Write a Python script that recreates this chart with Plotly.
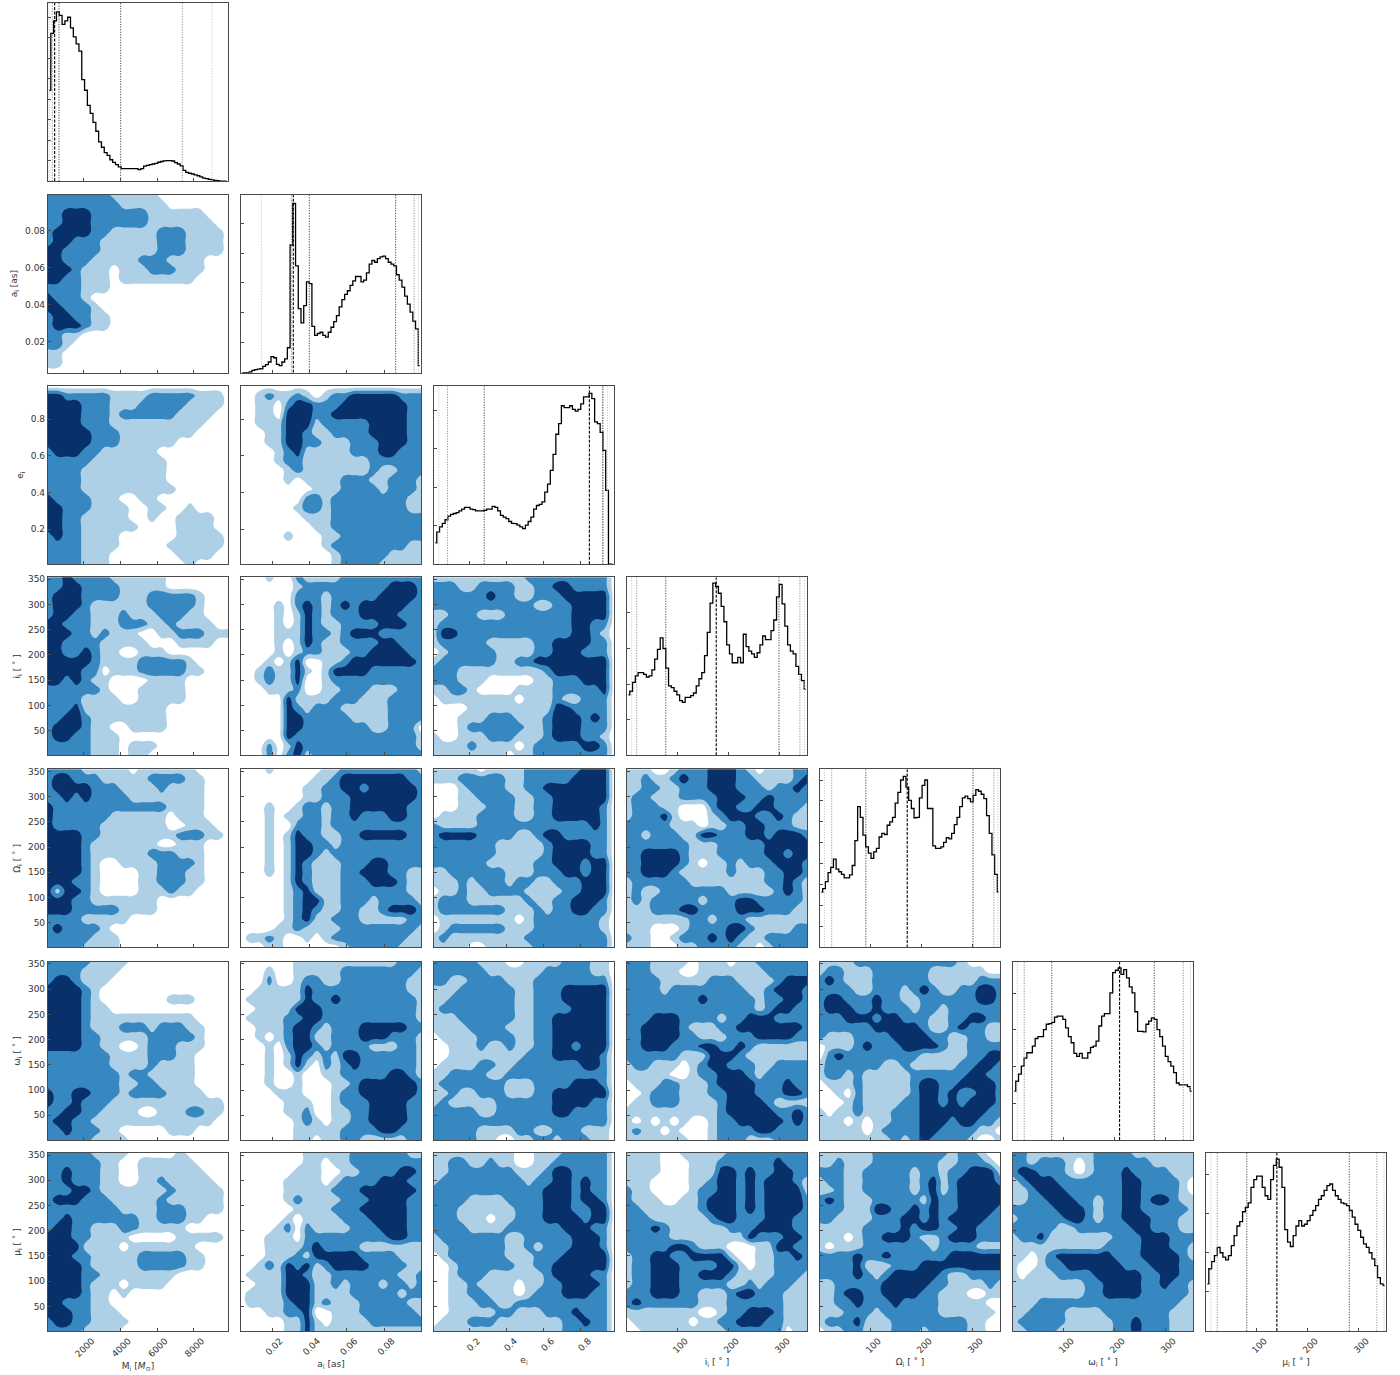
import numpy as np
import plotly.graph_objects as go

# --- parameter names / axes ---
LABELS = ["M<sub>i</sub> [<i>M</i><sub>\u2299</sub>]", "a<sub>i</sub> [as]", "e<sub>i</sub>", "i<sub>i</sub> [ \u02da ]",
          "\u03a9<sub>i</sub> [ \u02da ]", "\u03c9<sub>i</sub> [ \u02da ]", "\u03bc<sub>i</sub> [ \u02da ]"]
RANGES = [[40, 9880], [0.0033, 0.0997], [0.008, 0.98], [1, 354], [1, 354], [1, 354], [1, 354]]
XTICKS = [[2000, 4000, 6000, 8000], [0.02, 0.04, 0.06, 0.08], [0.2, 0.4, 0.6, 0.8],
          [100, 200, 300], [100, 200, 300], [100, 200, 300], [100, 200, 300]]
XTICKTEXT = [["2000", "4000", "6000", "8000"], ["0.02", "0.04", "0.06", "0.08"], ["0.2", "0.4", "0.6", "0.8"],
             ["100", "200", "300"], ["100", "200", "300"], ["100", "200", "300"], ["100", "200", "300"]]
YTICKS = [[], [0.02, 0.04, 0.06, 0.08], [0.2, 0.4, 0.6, 0.8], [50, 100, 150, 200, 250, 300, 350],
          [50, 100, 150, 200, 250, 300, 350], [50, 100, 150, 200, 250, 300, 350], [50, 100, 150, 200, 250, 300, 350]]
YTICKTEXT = [[], ["0.02", "0.04", "0.06", "0.08"], ["0.2", "0.4", "0.6", "0.8"],
             ["50", "100", "150", "200", "250", "300", "350"], ["50", "100", "150", "200", "250", "300", "350"],
             ["50", "100", "150", "200", "250", "300", "350"], ["50", "100", "150", "200", "250", "300", "350"]]
DIAG_DTICK = [11.5, 16.8, 21.6, 20, 11.75, 20.6, 22]

# --- 1D marginals (height as % of panel) ---
HIST_M = [51, 83, 90, 95, 93, 88, 90, 92, 86, 81, 77, 73, 57, 51, 42.5, 38, 33, 28, 22, 19, 16, 14.5, 12, 10.5, 9.3, 8, 7, 7, 7, 7, 7, 7, 6.5, 7, 8.4, 8.8, 9.3, 9.6, 10, 10.6, 11, 11.4, 11.5, 11.5, 11.3, 10.4, 9.6, 8.6, 6, 4.9, 4.4, 4, 3.5, 3, 2.4, 1.7, 1.4, 1, 0.7, 0.4, 0.2, 0, 0, 0]
HIST_A = [0, 0, 0, 0.4, 1.3, 1.7, 2, 2.2, 3.5, 4.5, 6, 9, 8.4, 4.7, 4, 6, 7.8, 14, 71.7, 95, 60, 36, 28, 37.6, 51, 50, 26, 21, 22, 22.7, 21, 20, 22.7, 25.5, 28.7, 32, 37, 41, 44, 46, 49, 51.6, 54, 54, 51, 52, 56, 61, 63, 62, 64, 65, 65.5, 64, 62, 61, 60, 55, 52, 48, 43, 38.5, 34, 29, 24.6, 4]
HIST_E = [12, 18, 21, 23, 25, 27, 28, 28.5, 29, 30, 31, 32, 32, 31, 30.7, 30, 30, 30, 30.3, 31, 31, 32.5, 32, 30, 27.5, 26.5, 25.6, 24, 23, 22.8, 22, 21, 20, 22, 24, 26.5, 31, 33, 33.6, 35, 40.5, 45, 52.7, 61.7, 73, 79, 89, 88, 88, 89, 87, 86, 87, 90, 94, 94, 96, 93, 80, 79, 74, 64, 41.5, 0, 0]
HIST_I = [34, 36, 41, 44.6, 46.5, 46.5, 45.5, 44, 44.6, 48, 54, 59.5, 66, 60, 49, 39, 38, 36, 34, 30.7, 29.7, 32.5, 32.5, 33.5, 35, 39, 43, 46.5, 56, 69, 85.5, 96.7, 94.8, 91, 83.6, 75, 62, 57, 52, 52, 55, 52, 68, 61, 58.5, 57, 55, 57.6, 62, 67, 65, 65, 70, 76, 89, 96, 85, 72.5, 62, 58.5, 57, 50, 45.5, 42, 37]
HIST_O = [31, 33, 37, 42, 45, 49.6, 44, 42.5, 41, 39, 39, 40.7, 46, 60, 79, 73, 63, 56.5, 53, 50, 53.7, 55.6, 62, 64, 63.4, 68.6, 70.5, 73, 81, 87, 94, 96, 90, 82.6, 78, 72.8, 73, 84, 91, 94, 78, 78, 57, 55.6, 55.6, 56.5, 59, 61.6, 61, 64, 69, 73, 79, 84, 85, 83.6, 81.7, 85.4, 88.6, 87.7, 86, 83.6, 74, 64, 52, 41, 31]
HIST_W = [27.5, 33, 37, 41.5, 46, 49, 49, 52.7, 57, 58, 58, 62, 65, 65.4, 66, 69, 69.5, 69.5, 67.7, 63, 58, 54.6, 48.6, 47, 48.6, 46, 46, 49, 52, 52.7, 55.5, 64, 69.5, 71, 71, 82.6, 94, 95.3, 96.6, 93, 95.7, 91, 86, 82.6, 72, 61, 61, 60.7, 65, 66.7, 68.6, 67.7, 62, 58, 52.7, 47, 44, 41.5, 37.8, 32, 31, 31, 31, 30, 27.5]
HIST_U = [26.5, 35, 39, 42.4, 47, 44, 41.5, 40, 42.4, 48, 53.6, 59, 61.5, 67, 69.5, 72, 80.7, 85, 87, 87, 80.7, 76, 74, 85, 93, 96.6, 92, 80.7, 57, 50, 47.5, 53.6, 59, 62, 59, 60, 62, 65, 67.7, 70.5, 74, 76, 79, 81.7, 82.6, 79, 76, 74, 72, 71.4, 70.5, 67.7, 64, 60, 56.5, 52.7, 49, 47, 44, 40.6, 36.8, 30, 26.5, 25.6]
HISTS = [HIST_M, HIST_A, HIST_E, HIST_I, HIST_O, HIST_W, HIST_U]

# quantile lines: outer-low, mid-low, inner-low, median, inner-high, mid-high, outer-high
QUANT_M = [95, 277, 641, 404, 4012, 7383, 9005]
QUANT_A = [0.0142, 0.0303, 0.0399, 0.0313, 0.0861, 0.0960, 0.0983]
QUANT_E = [0.034, 0.081, 0.279, 0.847, 0.919, 0.921, 0.944]
QUANT_I = [10, 20, 77, 176, 299, 340, 349]
QUANT_O = [10, 24, 91, 172, 301, 342, 350]
QUANT_W = [9.5, 23, 77, 210, 278, 335, 349]
QUANT_U = [10.5, 23, 81, 140, 282, 336, 350]
QUANTS = [QUANT_M, QUANT_A, QUANT_E, QUANT_I, QUANT_O, QUANT_W, QUANT_U]

# --- 2D density levels, top row first: 0 none, 1 light, 2 mid, 3 dark ---
A_M = ["22222221111100000000","22222222111110000000","22333222222111111000","22333222222111111100","23333221111122211110","23322211111122211110","33222211111122211110","33222111112221111000","33321110111222111000","33221110111111110000","22221110000000000000","32221000000000000000","33222100000000000000","23322110000000000000","23332110000000000000","22110000000000000000","22100000000000000000","11000000000000000000","11000000000000000000","00000000000000000000"]
E_M = ["00000000000000000000","33222221111222221110","33332221112222211110","33332221222222111100","33332221111111111000","33333222111111110000","33333222111111000000","23332211111100000000","22222111111110000000","22221111111110000000","22221111111110000000","22221111111111000000","32222111001100000000","33222111100110010000","33221111100100111100","33221111110000111100","23221111000000111110","22221111000001111110","22221110000000111100","22221110000000010000"]
I_M = ["22322221111110000000","22332222111110000000","23332222111222221000","23332111111222221000","23322111211122211000","33222111222112111100","33322121110011222111","33222211111000111100","33223211001110000000","33333211112222210000","33332201112222211000","33232110000111100000","22222210001111100000","22221111001111100000","22231111111110000000","22332111111110000000","23332110011110000000","23322111000000000000","22222111011100000000","22222111011000000000"]
O_M = ["22221111101111110000","23322211111222211000","23333222111121111000","22323222211111111000","32222222222221111000","32222221111110111000","32222211111110011100","33332211111111222110","33332111111100111000","33332111111222111000","33332100111122221000","33332100001122211000","33322100001122211000","31332100001112110000","33322111111100000000","33322222111100000000","22221111100000000000","23222210000000000000","22222111000000000000","22221111000000000000"]
W_M = ["22222111100000000000","22221111000000000000","23321110000000000000","33332100000000000000","33332100000001110000","33332110000000000000","33332111111111110000","33332111222122211000","33332211111222221000","33332211001222111000","22222221111222110000","22222221111211110000","22222222122111110000","22222222112211110000","32233222122221111000","32232221111111111110","22332211110011122110","23322111111111111100","22322211000001110000","22222111100000000000"]
U_M = ["22222111100000100000","22222211001111110000","22322211001111111000","22322211001121111100","22233211111112111110","23332221111121111110","22222222111122211110","22322222221122211000","23322111221111100000","33322111100000111110","33331111011111110000","33322111112222211000","33332111112222211000","33332211111111000000","33332111011110000000","33332110100000000000","33222110000000000000","33322111000000000000","23322111100000000000","22221111000000000000"]
E_A = ["00000000000000000000","00121121012233333222","00110233222333333322","00110333223333333322","00111333122222333322","00011332112222333322","00011332211122233322","00001231111122233222","00001221111111222222","00000121111111211222","00000101111222112221","00000000111222212221","00000002212222222211","00000012212222222211","00000001112222222222","00000000112222222222","00000100011222222222","00000000012222222211","00000000001222221111","00000000001222211111"]
I_A = ["00010021111222222222","00000012222222223332","00000022212222233332","00001023212323333322","00001013212223333222","00001013211222233322","00001113221233322222","00001013211222233222","00001012211122333322","00010130011233333332","00121131013333222222","00121130012222222222","00011120011222111222","00000311112221112222","00000321222111112222","00000332222211112222","00000332222222112220","00000322222222222221","00020132222222222221","00020231222222222222"]
O_A = ["00010000011222222221","00000000112333333322","00000001122332333332","00000001122233333332","00010012212233333322","00010112212232223322","00010022212222222222","00010132211223333322","00010133221222222222","00010133212222222222","00010132111222332222","00010132111223332211","00000132111222333211","00000123111222222211","00000123311222122221","00000123211221123332","00000123112221111122","00001121111222222221","01121001012222222211","00011000000122222111"]
W_A = ["00000011111111111222","00010011111222222221","00020012211222222211","00111113222222222211","01111113223222222221","00111133322222222221","01111223322222222221","00111233212223333322","00101233112223332221","00010233212222111221","00010132121332222221","00010131021232222221","00010010011222223321","00010010001123333332","00001110001223333332","00000111001222333322","00000112001122333322","00000012101122333322","00000011111222233222","00000011011221111122"]
U_A = ["00000001111122222211","00000001101122222222","00000011100112222332","00000111101222233322","00000111112223333332","00000121111222333322","00000011112223333322","00000101111222333322","00001202111122233322","00011102222222223322","00011112322221111111","00011121333332222111","00121323123333222211","01111332112222222112","00111333112122212212","01111333111122222122","01111233121112222211","00011223001112222221","00000113101111222222","00000113111111111111"]
I_E = ["11111111112222222220","22211222211223322220","22222232211222333330","22222222222112233330","11222111222222233330","12222222222222233220","13322222222222233210","12222211111223333220","01222221111223332220","12222221122333333330","22211111111123333330","22211100000112223330","11221000011112222230","01111111101112112220","00001111111113322220","00011122211123332320","00012222221123332220","10011122211123332210","11112111101222223320","11111111011222222220"]
O_E = ["11111011112222223330","11122222112222233330","00012222112233333330","00011222211223333330","00011122211223333320","01111222211223333320","21111222222222222320","23333222211233222220","22222221111123333220","22222221111123333220","22222211111223332330","11222222111222332330","11121222122112223330","01121122221111223330","12221111112112233320","12222222111212233220","01111111101222222210","01222222111222222210","12111111112222222220","11110011111222222220"]
W_E = ["22222111001111222110","22222211111122222110","22112222111222222220","11122222211222333330","11222222211222333330","12222222211222233330","11122222211223333330","11112222111223333330","01111222211223333330","00111211211223323330","00111111112223333320","01111221122222223320","11222211222222222220","12222222111222233320","11211222111223333330","12111112222223333220","22222112222223322220","22222222222222222220","22222111122112221110","22222110011221222110"]
U_E = ["11111111100111222220","11221121100112222220","11222222211123322220","12222222221223323220","22222222222233323220","22221111222233323320","22211111122233322330","22211101122233332330","22221111222222333220","12222222112222233320","11222222112122233320","01222222111222333330","00122222211223333330","00122211111123333220","00112111101122333320","00112211101222333220","00111221122222222220","00111112211122232220","01112221111111223220","11111111111111222220"]
O_I = ["11100122233321011122","11211232233322111123","11221122233322212232","12211122223332232222","12221100023322332221","12223100012333223211","22222111011223322211","22122211332223323332","22222221112222233333","22333321112222233233","22333321011212223332","22333211111211122332","12222221111111122321","12112222222111112321","12122222122233222221","11122233222233322211","11111112212221111111","11100012222332111122","21100122232321122222","11100011222211012222"]
W_I = ["22211110111011222222","22211100111111122222","22221111122211112333","22221222222221123332","22222222322222122332","22222222222222123322","22233322221223332222","22333321112233333332","22333322111222333322","22333222332232111111","22222211133321111111","12211101233222112222","11111001223332122222","01112211123333222322","00122211122333222332","01122211112333321111","11111111112333332232","10101010012233333232","12110100012222332222","11111110012221112222"]
U_I = ["11110011111222222222","11110001112222223222","11110001113323223322","11100001123323233321","21100001223323233331","21110011233323233332","22111111233323233332","22211111123322233322","22232111111222333322","22222111111113222332","22222332111000113322","12233223333100112232","12233322223310112222","12233322333211112221","12233322222112122211","22233322111233222111","23222222111222222111","11111111001223332111","01111110112233322111","00111111111222222011"]
W_O = ["11112222222222210000","12211122222211111100","23211122222211111222","22221122212321122332","23322232211222222332","23332232221221222222","22233323322211223322","22222233333211232211","21112222333322112211","01112322233332112222","02322222222111112233","12222221121111122332","12212111112222223322","01112111112332233332","00102111112332322332","00012111122332323332","10112111222333333322","11101011222333233221","11111012222332222110","11111111212322221001"]
U_O = ["11111122222222122100","11211122222221122210","22211222221221223331","12211222221231233332","11211222221231233333","23211122222132233333","22211133223232233332","22111122233232333322","11111222232332233222","11101223332112333222","10111222222212222111","22223223222222333333","22223111222333333333","22223212333332112222","11222223333322111121","11233223333221110011","11223222322221111100","11122212222221111110","12223111222222221100","01122111222122221100"]
U_W = ["22111111122221111111","22122210122222211111","23322210122232222111","12333222222233222210","11233322222233222210","11223332212233233211","22222333212233222221","12222233212233322211","22222112222223322211","12231111111222333222","11111111112222333221","11012333333222333321","10012233333322233322","10111222233333223322","11111111223333223221","11111111223333222221","11122222222222222211","11222211112222222111","12222211111223222111","11222111111223222111"]
GRIDS = {(1, 0): A_M, (2, 0): E_M, (3, 0): I_M, (4, 0): O_M, (5, 0): W_M, (6, 0): U_M,
         (2, 1): E_A, (3, 1): I_A, (4, 1): O_A, (5, 1): W_A, (6, 1): U_A,
         (3, 2): I_E, (4, 2): O_E, (5, 2): W_E, (6, 2): U_E,
         (4, 3): O_I, (5, 3): W_I, (6, 3): U_I,
         (5, 4): W_O, (6, 4): U_O, (6, 5): U_W}

# --- page geometry (pixels of the panels in the reference) ---
W, H = 1400, 1375
PX_LEFT = [48, 241, 434, 627, 820, 1013, 1206]
PX_TOP = [0.0, 192, 384, 575.5, 768, 961, 1152.5]
PX_W = 180
PX_H = 178.5
FIG_W, FIG_H = W, H

INK = "#4a4a4a"
TXT = "#333333"
LIGHT, MID, DARK = "#aed0e6", "#3787c0", "#08306b"
SCALE = [[0, "#ffffff"], [1 / 6, "#ffffff"], [1 / 6, LIGHT], [0.5, LIGHT], [0.5, MID], [5 / 6, MID], [5 / 6, DARK], [1, DARK]]
Q_STYLE = [("#c4c4c4", "dot"), ("#8a8a8a", "dot"), ("#333333", "dot"), ("#000000", "dash"),
           ("#333333", "dot"), ("#8a8a8a", "dot"), ("#c4c4c4", "dot")]

fig = go.Figure()
layout = {}


def axis_common():
    return dict(showgrid=False, zeroline=False, showline=True, linecolor=INK, linewidth=1.2, mirror=True,
                ticks="inside", ticklen=3, tickwidth=0.8, tickcolor=INK,
                tickfont=dict(family="DejaVu Sans", size=9, color=TXT))


n = 0
for r in range(7):
    for c in range(r + 1):
        n += 1
        xn, yn = ("x", "y") if n == 1 else (f"x{n}", f"y{n}")
        xa = axis_common()
        ya = axis_common()
        x0 = PX_LEFT[c] / FIG_W
        x1 = (PX_LEFT[c] + PX_W) / FIG_W
        y1 = 1 - PX_TOP[r] / FIG_H
        y0 = 1 - (PX_TOP[r] + PX_H) / FIG_H
        xa.update(domain=[x0, x1], range=RANGES[c], anchor=yn, tickvals=XTICKS[c],
                  showticklabels=(r == 6), tickangle=-45)
        if r == 6:
            xa.update(ticktext=XTICKTEXT[c], ticklabelshift=8)
        ya.update(domain=[y0, y1], anchor=xn)
        if r == 6:
            xa["title"] = dict(text=LABELS[c], font=dict(family="DejaVu Sans", size=9, color=TXT), standoff=4)
        if r == c:
            hist = HISTS[r]
            xs = np.linspace(RANGES[c][0], RANGES[c][1], len(hist) + 1)
            centers = (xs[:-1] + xs[1:]) / 2
            ya.update(range=[0, 100], tick0=0, dtick=DIAG_DTICK[r], showticklabels=False)
            fig.add_trace(go.Scatter(x=centers, y=hist, mode="lines", xaxis=xn, yaxis=yn,
                                     line=dict(color="#000000", width=1.3, shape="hvh"), hoverinfo="skip"))
            for q, (col, dash) in zip(QUANTS[r], Q_STYLE):
                fig.add_trace(go.Scatter(x=[q, q], y=[0, 100], mode="lines", xaxis=xn, yaxis=yn,
                                         line=dict(color=col, width=0.9 if dash == "dot" else 1.1,
                                                   dash="1.2px,1.4px" if dash == "dot" else "3px,1.5px"),
                                         hoverinfo="skip"))
        else:
            rows = [s.ljust(20, "0")[:20] for s in GRIDS[(r, c)]]
            z = np.array([[int(ch) for ch in s] for s in rows[::-1]], dtype=float)
            fig.add_trace(go.Contour(x=np.linspace(RANGES[c][0], RANGES[c][1], z.shape[1]),
                                     y=np.linspace(RANGES[r][0], RANGES[r][1], z.shape[0]), z=z,
                                     xaxis=xn, yaxis=yn, autocontour=False, zmin=0, zmax=3,
                                     contours=dict(start=0.5, end=2.5, size=1, coloring="fill", showlines=False),
                                     line=dict(width=0, smoothing=1.3), colorscale=SCALE, showscale=False,
                                     hoverinfo="skip"))
            ya.update(range=RANGES[r], tickvals=YTICKS[r], showticklabels=(c == 0))
            if c == 0:
                ya["ticktext"] = YTICKTEXT[r]
                ya["title"] = dict(text=LABELS[r], font=dict(family="DejaVu Sans", size=9, color=TXT), standoff=5)
        layout["xaxis" if n == 1 else f"xaxis{n}"] = xa
        layout["yaxis" if n == 1 else f"yaxis{n}"] = ya

fig.update_layout(width=FIG_W, height=FIG_H, margin=dict(l=0, r=0, t=0, b=0), showlegend=False,
                  paper_bgcolor="white", plot_bgcolor="white", **layout)
fig.write_html("out.html", config={"displayModeBar": False},
               post_script="document.documentElement.style.margin='0';document.body.style.margin='0';document.body.style.overflow='hidden';")
